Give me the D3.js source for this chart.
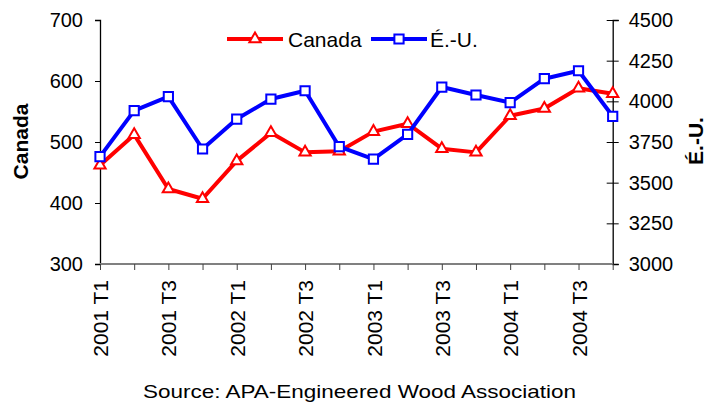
<!DOCTYPE html>
<html>
<head>
<meta charset="utf-8">
<script src="https://cdn.jsdelivr.net/npm/d3@7"></script>
<style>
  html, body { margin: 0; padding: 0; background: #fff; }
  svg { display: block; font-family: "Liberation Sans", Arial, sans-serif; }
</style>
</head>
<body>
<svg id="chart" width="711" height="404"></svg>
<script>
// Quarterly series, 2001 T1 .. 2004 T4
const quarters = [
  "2001 T1", "2001 T2", "2001 T3", "2001 T4",
  "2002 T1", "2002 T2", "2002 T3", "2002 T4",
  "2003 T1", "2003 T2", "2003 T3", "2003 T4",
  "2004 T1", "2004 T2", "2004 T3", "2004 T4"
];
const canada = [462, 512, 423, 407, 469, 515, 483, 485, 517, 530, 489, 483, 543, 555, 588, 579];
const usa = [3660, 3943, 4029, 3707, 3891, 4014, 4065, 3721, 3645, 3797, 4088, 4039, 3992, 4139, 4188, 3908];
const leftTicks = [300, 400, 500, 600, 700];
const rightTicks = [3000, 3250, 3500, 3750, 4000, 4250, 4500];
const shownQuarterLabels = ["2001 T1", "2001 T3", "2002 T1", "2002 T3", "2003 T1", "2003 T3", "2004 T1", "2004 T3"];
const seriesNames = ["Canada", "É.-U."];
const sourceText = "Source: APA-Engineered Wood Association";

const svg = d3.select("#chart");
const plot = { left: 100, right: 612.7, top: 20, bottom: 264 };

const x = d3.scalePoint().domain(quarters).range([plot.left, plot.right]);
const yL = d3.scaleLinear().domain([300, 700]).range([plot.bottom, plot.top]);
const yR = d3.scaleLinear().domain([3000, 4500]).range([plot.bottom, plot.top]);

const red = "#ff0000", blue = "#0000ff";
const fontFam = "Liberation Sans, Arial, sans-serif";

// Left axis (Canada)
const gL = svg.append("g").attr("transform", `translate(${plot.left},0)`)
  .call(d3.axisLeft(yL).tickValues(leftTicks).tickFormat(d3.format("d")).tickSize(5).tickPadding(12));
gL.select(".domain").attr("stroke", "#000").attr("stroke-width", 1.3);
gL.selectAll(".tick line").attr("stroke", "#000");
gL.selectAll("text").attr("font-size", 20).attr("fill", "#000").attr("font-family", fontFam);

// Right axis (É.-U.), ticks cross the axis line
const gR = svg.append("g").attr("transform", `translate(${plot.right},0)`)
  .call(d3.axisRight(yR).tickValues(rightTicks).tickFormat(d3.format("d")).tickSize(6).tickPadding(10));
gR.select(".domain").attr("stroke", "#000").attr("stroke-width", 1.3);
gR.selectAll(".tick line").attr("stroke", "#000").attr("x1", -6);
gR.selectAll("text").attr("font-size", 20).attr("fill", "#000").attr("font-family", fontFam);

// Bottom axis
const gB = svg.append("g").attr("transform", `translate(0,${plot.bottom})`)
  .call(d3.axisBottom(x).tickSize(6).tickFormat(d => shownQuarterLabels.includes(d) ? d : ""));
gB.select(".domain").attr("stroke", "#808080").attr("stroke-width", 2)
  .attr("d", `M${plot.left},0H${plot.right}`);
gB.selectAll(".tick line").attr("stroke", "#404040");
gB.selectAll("text")
  .attr("font-size", 21).attr("fill", "#000").attr("font-family", fontFam)
  .attr("text-anchor", "end")
  .attr("transform", "translate(0,16) rotate(-90)")
  .attr("x", 0).attr("y", 0).attr("dy", "0.36em");

// Axis titles
svg.append("text").text(seriesNames[0])
  .attr("transform", "translate(28,141.5) rotate(-90)")
  .attr("text-anchor", "middle").attr("font-size", 21).attr("font-weight", "bold");
svg.append("text").text(seriesNames[1])
  .attr("transform", "translate(703,141) rotate(-90)")
  .attr("text-anchor", "middle").attr("font-size", 21).attr("font-weight", "bold");

// Marker shapes
const tri = d3.symbol().type(d3.symbolTriangle).size(55);
const sq = d3.symbol().type(d3.symbolSquare).size(85);

function drawSeries(values, scale, color, shape) {
  const line = d3.line().x((d, i) => x(quarters[i])).y(d => scale(d));
  svg.append("path").datum(values)
    .attr("d", line).attr("fill", "none")
    .attr("stroke", color).attr("stroke-width", 4).attr("stroke-linejoin", "round");
  svg.append("g").selectAll("path").data(values).join("path")
    .attr("d", shape)
    .attr("transform", (d, i) => `translate(${x(quarters[i])},${scale(d)})`)
    .attr("fill", "#fff").attr("stroke", color).attr("stroke-width", 2);
}
drawSeries(canada, yL, red, tri);
drawSeries(usa, yR, blue, sq);

// Legend
const legend = [
  { name: seriesNames[0], color: red, shape: tri, x0: 227, x1: 283, tx: 288 },
  { name: seriesNames[1], color: blue, shape: sq, x0: 371, x1: 427, tx: 430 }
];
const ly = 39;
legend.forEach(l => {
  svg.append("line").attr("x1", l.x0).attr("x2", l.x1).attr("y1", ly).attr("y2", ly)
    .attr("stroke", l.color).attr("stroke-width", 4);
  svg.append("path").attr("d", l.shape)
    .attr("transform", `translate(${(l.x0 + l.x1) / 2},${ly})`)
    .attr("fill", "#fff").attr("stroke", l.color).attr("stroke-width", 2);
  svg.append("text").text(l.name).attr("x", l.tx).attr("y", ly + 7.5)
    .attr("font-size", 21);
});

// Source note
svg.append("text").text(sourceText)
  .attr("x", 359.5).attr("y", 398).attr("text-anchor", "middle")
  .attr("font-size", 19).attr("textLength", 433).attr("lengthAdjust", "spacingAndGlyphs");
</script>
</body>
</html>
